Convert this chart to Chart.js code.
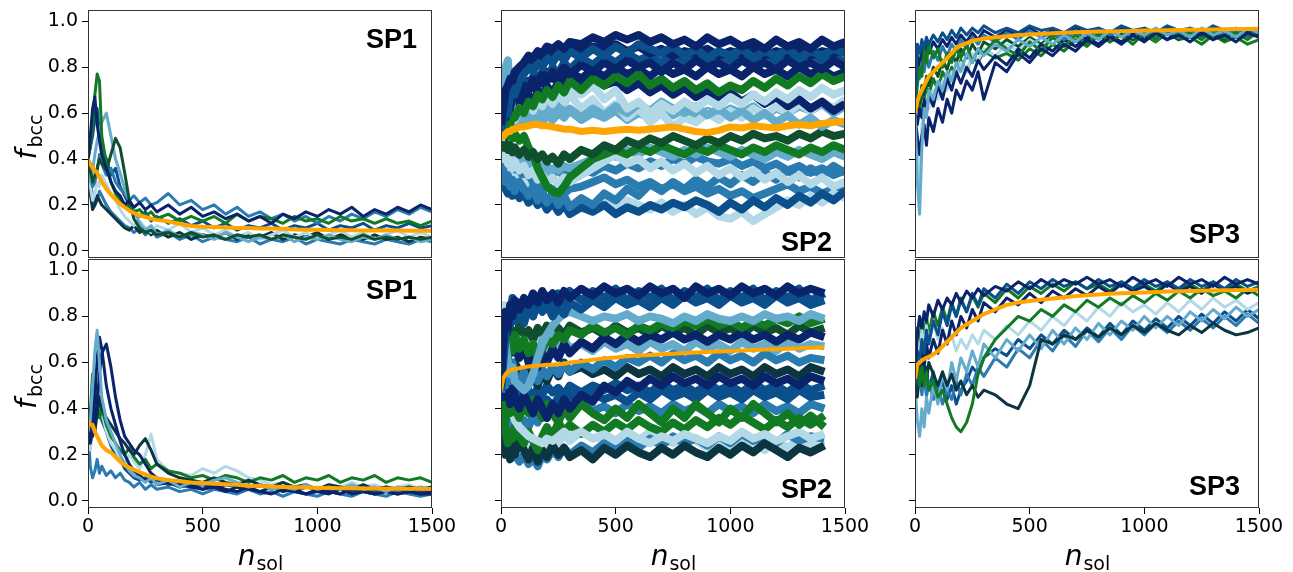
<!DOCTYPE html>
<html>
<head>
<meta charset="utf-8">
<script src="https://cdn.jsdelivr.net/npm/chart.js@4.4.1/dist/chart.umd.min.js"></script>
<style>
  body { margin: 0; background: #fff; width: 1293px; height: 572px; position: relative; overflow: hidden; }
  canvas { position: absolute; }
</style>
</head>
<body>
<canvas id="p1"></canvas>
<canvas id="p2"></canvas>
<canvas id="p3"></canvas>
<canvas id="p4"></canvas>
<canvas id="p5"></canvas>
<canvas id="p6"></canvas>
<script>
// n_sol sample points (finer at the start where runs move fast)
const nsolGrid = [0,10,20,30,40,50,60,80,100,120,140,160,180,200,225,250,275,300,
  350,400,450,500,550,600,650,700,750,800,850,900,950,1000,1050,1100,1150,1200,1250,1300,1350,1400,1450,1500];
const nsolGridShort = [0,10,20,30,40,50,60,80,100,120,140,160,180,200,225,250,275,300,
  350,400,450,500,550,600,650,700,750,800,850,900,950,1000,1050,1100,1150,1200,1250,1300,1350,1410];

const xTickVals = [0, 500, 1000, 1500];
const yTickVals = [0, 0.2, 0.4, 0.6, 0.8, 1.0];

// ---- SP1, top row
const meanSp1Top = [.4,.38,.36,.35,.34,.32,.3,.27,.245,.225,.205,.19,.175,.165,.155,.148,.14,.135,
  .128,.118,.108,.105,.104,.102,.1,.1,.098,.097,.096,.093,.092,.092,.091,.09,.09,.089,.089,.09,.089,.088,.088,.088];
const runsSp1Top = [
  [.38,.5,.62,.67,.55,.48,.42,.36,.3,.26,.24,.2,.22,.19,.21,.18,.2,.17,
   .2,.16,.19,.15,.17,.14,.16,.13,.15,.12,.16,.14,.17,.15,.18,.16,.19,.15,.18,.16,.19,.17,.2,.18],
  [.42,.45,.55,.68,.77,.74,.5,.38,.3,.25,.22,.2,.19,.17,.18,.15,.17,.14,
   .16,.13,.15,.13,.15,.12,.16,.13,.15,.14,.12,.15,.13,.14,.12,.15,.13,.14,.12,.14,.12,.13,.11,.13],
  [.4,.35,.3,.33,.36,.4,.38,.35,.42,.49,.45,.34,.22,.14,.1,.08,.09,.07,
   .08,.06,.08,.06,.07,.05,.07,.06,.07,.05,.07,.06,.05,.07,.05,.06,.05,.07,.05,.06,.05,.06,.05,.06],
  [.36,.3,.35,.42,.48,.52,.56,.6,.5,.4,.34,.27,.22,.18,.12,.09,.11,.07,
   .09,.06,.08,.07,.05,.08,.06,.04,.06,.05,.07,.04,.06,.05,.07,.05,.04,.06,.05,.07,.05,.06,.04,.05],
  [.4,.32,.28,.3,.35,.42,.38,.33,.36,.3,.27,.25,.22,.24,.21,.23,.2,.21,
   .25,.2,.22,.18,.2,.16,.19,.15,.17,.14,.16,.13,.15,.12,.15,.13,.16,.14,.17,.15,.18,.16,.19,.17],
  [.38,.28,.22,.25,.3,.28,.33,.29,.25,.22,.18,.15,.13,.11,.13,.1,.08,.11,
   .09,.12,.08,.1,.07,.09,.06,.08,.05,.07,.09,.06,.08,.05,.07,.09,.06,.08,.05,.07,.09,.06,.08,.06],
  [.35,.25,.18,.2,.24,.22,.2,.18,.16,.14,.12,.1,.09,.11,.08,.1,.07,.09,
   .06,.08,.05,.07,.06,.08,.05,.07,.06,.08,.05,.07,.06,.08,.05,.07,.06,.05,.07,.05,.06,.04,.06,.05],
  [.4,.45,.5,.58,.62,.5,.45,.4,.33,.36,.28,.24,.2,.17,.15,.17,.13,.15,
   .12,.14,.11,.13,.1,.12,.09,.11,.1,.12,.09,.11,.1,.12,.09,.11,.1,.12,.09,.11,.1,.12,.1,.11],
  [.37,.3,.24,.2,.22,.26,.24,.2,.17,.15,.13,.11,.1,.08,.1,.07,.09,.06,
   .08,.05,.07,.04,.06,.05,.04,.06,.03,.05,.04,.06,.03,.05,.04,.03,.05,.04,.03,.05,.04,.03,.05,.04]
];

// ---- SP1, bottom row
const meanSp1Bot = [.35,.33,.33,.3,.28,.26,.24,.22,.21,.19,.17,.155,.145,.135,.125,.115,.105,.098,
  .09,.085,.08,.077,.074,.072,.07,.066,.064,.062,.06,.059,.058,.057,.056,.055,.055,.054,.054,.053,.053,.052,.052,.051];
const runsSp1Bot = [
  [.3,.35,.5,.65,.74,.6,.45,.35,.3,.25,.2,.16,.13,.11,.1,.08,.1,.07,
   .09,.06,.08,.07,.09,.1,.08,.06,.07,.05,.06,.05,.07,.05,.06,.05,.07,.05,.06,.04,.06,.05,.06,.05],
  [.33,.25,.3,.45,.62,.71,.66,.5,.4,.33,.26,.2,.16,.13,.11,.09,.1,.07,
   .08,.06,.07,.05,.06,.04,.06,.05,.04,.06,.04,.05,.03,.05,.04,.03,.05,.04,.03,.04,.03,.04,.03,.04],
  [.35,.3,.28,.35,.42,.55,.64,.68,.58,.45,.35,.28,.25,.22,.2,.16,.12,.1,
   .08,.07,.06,.05,.07,.05,.04,.06,.04,.03,.05,.04,.03,.04,.03,.05,.03,.04,.03,.04,.03,.04,.03,.03],
  [.36,.4,.35,.3,.38,.45,.4,.36,.33,.3,.27,.25,.22,.2,.24,.27,.22,.16,
   .12,.1,.09,.08,.1,.08,.07,.09,.07,.06,.08,.06,.07,.05,.07,.06,.05,.07,.05,.06,.05,.06,.05,.06],
  [.34,.38,.55,.5,.42,.36,.4,.33,.28,.25,.22,.2,.23,.19,.16,.18,.14,.16,
   .13,.12,.1,.11,.09,.11,.1,.08,.1,.09,.11,.08,.1,.09,.11,.08,.1,.09,.11,.08,.1,.09,.1,.08],
  [.3,.22,.3,.38,.45,.42,.38,.3,.25,.22,.18,.16,.2,.17,.14,.2,.29,.18,
   .13,.12,.11,.14,.12,.15,.13,.1,.09,.07,.08,.06,.07,.05,.07,.06,.08,.06,.07,.05,.06,.07,.05,.06],
  [.32,.15,.1,.13,.18,.12,.15,.11,.13,.1,.12,.09,.08,.06,.08,.05,.07,.05,
   .06,.04,.05,.03,.05,.04,.03,.05,.03,.04,.02,.04,.03,.02,.04,.03,.02,.04,.03,.02,.04,.03,.02,.03],
  [.38,.32,.4,.52,.48,.4,.35,.3,.24,.2,.18,.14,.12,.1,.09,.1,.08,.09,
   .07,.08,.06,.07,.05,.07,.06,.05,.07,.05,.06,.04,.06,.05,.04,.06,.04,.05,.04,.06,.04,.05,.04,.05]
];

// ---- SP2, top row
const meanSp2Top = [.49,.5,.51,.52,.52,.53,.53,.54,.54,.545,.55,.55,.545,.545,.54,.535,.53,.53,
  .52,.525,.52,.525,.53,.525,.53,.535,.54,.53,.52,.515,.525,.54,.535,.545,.54,.535,.545,.55,.545,.555,.56,.565];
const runsSp2Top = [
  [.55,.62,.7,.72,.75,.74,.78,.8,.82,.85,.84,.87,.86,.89,.88,.9,.88,.91,
   .9,.93,.91,.94,.92,.94,.91,.93,.9,.92,.89,.93,.9,.92,.89,.91,.88,.92,.89,.91,.88,.92,.89,.91],
  [.5,.58,.65,.6,.7,.72,.68,.74,.77,.8,.78,.82,.8,.84,.82,.86,.83,.87,
   .84,.88,.85,.89,.86,.9,.88,.86,.89,.85,.88,.84,.87,.85,.88,.84,.87,.85,.88,.84,.87,.85,.88,.86],
  [.52,.6,.58,.66,.62,.68,.7,.66,.72,.7,.75,.72,.77,.74,.78,.76,.8,.77,
   .81,.78,.82,.79,.83,.8,.82,.78,.82,.79,.83,.8,.82,.79,.83,.8,.82,.79,.83,.8,.82,.79,.83,.8],
  [.5,.55,.52,.58,.55,.6,.58,.62,.6,.65,.63,.68,.66,.7,.67,.72,.69,.74,
   .7,.75,.72,.76,.73,.77,.72,.75,.71,.74,.7,.73,.69,.72,.7,.74,.71,.75,.72,.76,.73,.77,.74,.76],
  [.48,.55,.62,.58,.55,.6,.57,.62,.6,.64,.61,.66,.63,.67,.64,.68,.65,.7,
   .68,.72,.66,.7,.62,.65,.6,.64,.61,.65,.62,.66,.63,.67,.64,.68,.65,.69,.66,.7,.67,.71,.68,.7],
  [.5,.68,.8,.83,.7,.6,.55,.58,.55,.6,.57,.62,.58,.63,.6,.64,.6,.62,
   .58,.62,.59,.63,.6,.64,.61,.65,.62,.6,.63,.59,.62,.58,.61,.57,.6,.56,.59,.55,.58,.54,.57,.55],
  [.47,.45,.47,.44,.46,.43,.45,.42,.44,.41,.43,.4,.42,.39,.41,.38,.42,.4,
   .44,.42,.46,.44,.48,.46,.49,.47,.5,.48,.46,.49,.47,.5,.48,.51,.49,.5,.48,.51,.49,.52,.5,.51],
  [.5,.52,.55,.5,.52,.49,.51,.48,.5,.45,.42,.36,.32,.28,.26,.25,.28,.32,
   .36,.4,.42,.44,.42,.45,.43,.46,.44,.42,.45,.43,.46,.44,.42,.45,.43,.46,.44,.42,.45,.43,.46,.44],
  [.45,.4,.42,.38,.4,.36,.39,.35,.37,.33,.35,.31,.33,.3,.32,.29,.32,.3,
   .33,.36,.39,.42,.38,.4,.36,.39,.35,.38,.34,.37,.33,.36,.32,.35,.31,.34,.3,.33,.29,.32,.28,.3],
  [.4,.35,.3,.33,.28,.31,.26,.3,.27,.24,.28,.22,.26,.21,.25,.2,.24,.19,
   .23,.2,.25,.22,.27,.24,.29,.26,.3,.27,.31,.28,.32,.29,.33,.3,.34,.31,.35,.32,.36,.33,.37,.34],
  [.42,.3,.27,.25,.28,.24,.27,.23,.25,.21,.24,.2,.22,.18,.21,.17,.2,.16,
   .19,.17,.2,.16,.19,.17,.2,.18,.21,.19,.22,.2,.17,.21,.18,.22,.19,.23,.2,.24,.21,.25,.22,.26],
  [.44,.38,.34,.3,.33,.29,.32,.28,.3,.26,.22,.2,.23,.19,.22,.18,.2,.17,
   .2,.18,.21,.19,.22,.2,.18,.21,.17,.2,.16,.19,.15,.14,.17,.13,.16,.19,.22,.2,.24,.21,.25,.23],
  [.55,.6,.56,.62,.58,.64,.6,.66,.62,.68,.64,.7,.66,.72,.68,.74,.7,.75,
   .71,.76,.72,.74,.7,.73,.69,.72,.68,.71,.67,.7,.66,.69,.65,.68,.64,.67,.63,.66,.62,.65,.61,.64],
  [.52,.56,.6,.64,.68,.7,.72,.76,.78,.8,.82,.84,.83,.86,.85,.87,.86,.88,
   .87,.89,.88,.9,.87,.89,.86,.88,.85,.87,.86,.88,.85,.87,.86,.88,.85,.87,.86,.88,.85,.87,.86,.88],
  [.46,.44,.42,.4,.42,.38,.4,.37,.39,.36,.38,.35,.37,.34,.36,.35,.37,.36,
   .38,.4,.43,.41,.44,.42,.45,.43,.41,.44,.42,.45,.43,.41,.44,.42,.4,.43,.41,.44,.42,.4,.43,.41],
  [.43,.4,.36,.38,.34,.36,.32,.34,.3,.32,.28,.3,.27,.29,.26,.28,.25,.27,
   .28,.3,.32,.29,.31,.28,.3,.27,.29,.26,.28,.25,.27,.24,.26,.23,.25,.27,.29,.26,.28,.25,.27,.26],
  [.6,.72,.68,.74,.7,.66,.72,.68,.74,.71,.76,.73,.78,.75,.8,.77,.82,.79,
   .84,.81,.85,.82,.86,.83,.85,.82,.86,.83,.85,.82,.86,.83,.85,.82,.86,.83,.85,.82,.86,.83,.85,.82],
  [.5,.52,.5,.54,.52,.56,.54,.58,.56,.6,.58,.62,.6,.64,.62,.66,.64,.68,
   .62,.66,.6,.64,.58,.62,.56,.6,.54,.58,.56,.6,.57,.61,.58,.62,.59,.63,.6,.64,.61,.65,.62,.66],
  [.5,.56,.54,.58,.56,.6,.57,.59,.56,.6,.57,.6,.56,.59,.57,.6,.58,.61,
   .57,.6,.58,.61,.57,.6,.58,.61,.59,.62,.58,.61,.59,.62,.6,.63,.59,.62,.6,.63,.61,.64,.6,.63],
  [.44,.42,.4,.42,.38,.41,.37,.4,.36,.39,.35,.38,.34,.37,.33,.36,.32,.35,
   .36,.34,.37,.35,.38,.36,.39,.37,.4,.38,.41,.39,.38,.4,.37,.39,.36,.38,.35,.37,.34,.36,.33,.35],
  [.55,.64,.6,.68,.64,.7,.67,.72,.69,.74,.71,.76,.73,.78,.75,.77,.74,.78,
   .75,.79,.76,.8,.77,.79,.76,.8,.77,.79,.76,.8,.77,.79,.76,.8,.77,.79,.76,.8,.77,.79,.76,.78]
];

// ---- SP2, bottom row (runs stop near n_sol = 1410)
const meanSp2Bot = [.48,.53,.55,.56,.565,.57,.572,.575,.58,.583,.585,.587,.588,.59,.59,.592,.595,.6,
  .605,.612,.618,.622,.627,.63,.633,.636,.638,.641,.643,.646,.648,.65,.652,.654,.656,.658,.66,.662,.664,.666];
const runsSp2Bot = [
  [.5,.7,.82,.75,.85,.8,.87,.83,.88,.85,.9,.86,.91,.87,.9,.86,.91,.88,
   .92,.89,.93,.9,.92,.89,.93,.9,.92,.88,.93,.9,.92,.89,.93,.9,.92,.89,.93,.9,.92,.9],
  [.48,.6,.72,.8,.76,.84,.78,.82,.77,.84,.8,.86,.82,.85,.8,.84,.81,.86,
   .83,.87,.84,.88,.85,.87,.84,.88,.85,.89,.86,.88,.85,.89,.86,.88,.85,.89,.86,.88,.85,.87],
  [.5,.75,.68,.6,.55,.58,.52,.5,.48,.5,.55,.62,.68,.72,.76,.79,.81,.82,
   .8,.78,.8,.79,.81,.78,.8,.79,.77,.8,.78,.81,.79,.78,.8,.78,.81,.79,.8,.78,.81,.79],
  [.5,.58,.66,.62,.7,.65,.72,.66,.7,.64,.68,.62,.66,.7,.68,.72,.7,.74,
   .72,.76,.73,.75,.72,.76,.74,.77,.75,.78,.76,.79,.76,.78,.75,.78,.76,.79,.77,.8,.77,.79],
  [.52,.65,.6,.7,.64,.72,.66,.62,.68,.6,.66,.58,.64,.6,.66,.62,.68,.64,
   .69,.66,.71,.68,.72,.69,.72,.7,.73,.7,.72,.69,.72,.7,.73,.7,.72,.69,.72,.7,.73,.71],
  [.47,.55,.5,.58,.52,.6,.55,.5,.56,.5,.55,.52,.57,.54,.58,.55,.59,.56,
   .6,.57,.61,.58,.62,.6,.63,.6,.64,.61,.63,.6,.64,.61,.63,.6,.64,.61,.63,.6,.62,.61],
  [.5,.45,.55,.48,.42,.5,.45,.4,.46,.42,.38,.44,.4,.36,.42,.38,.44,.4,
   .46,.43,.5,.47,.52,.49,.53,.5,.54,.51,.53,.5,.54,.51,.53,.5,.54,.51,.53,.5,.54,.52],
  [.48,.4,.35,.42,.38,.45,.4,.36,.42,.38,.44,.4,.36,.42,.38,.34,.4,.36,
   .42,.38,.35,.4,.36,.42,.38,.34,.4,.36,.42,.38,.34,.4,.36,.42,.38,.34,.38,.33,.37,.32],
  [.46,.5,.44,.5,.45,.48,.43,.47,.42,.46,.41,.45,.4,.44,.41,.45,.42,.46,
   .43,.47,.44,.46,.43,.47,.44,.48,.45,.47,.44,.48,.45,.47,.44,.48,.45,.47,.44,.48,.45,.46],
  [.5,.85,.7,.55,.45,.4,.35,.32,.3,.28,.27,.26,.25,.27,.26,.28,.3,.28,
   .3,.27,.29,.26,.3,.27,.25,.28,.26,.29,.27,.25,.28,.26,.3,.27,.29,.26,.28,.3,.27,.29],
  [.45,.38,.3,.25,.3,.27,.32,.28,.25,.3,.26,.22,.28,.32,.28,.34,.3,.33,
   .29,.33,.3,.34,.31,.35,.32,.3,.34,.31,.35,.32,.36,.33,.37,.34,.31,.35,.32,.36,.33,.37],
  [.48,.3,.2,.25,.18,.24,.2,.26,.22,.18,.23,.17,.22,.19,.24,.2,.23,.19,
   .22,.18,.23,.2,.24,.21,.19,.23,.2,.24,.21,.19,.23,.2,.24,.21,.25,.22,.19,.23,.21,.24],
  [.5,.55,.45,.35,.28,.22,.2,.17,.2,.16,.19,.15,.2,.18,.22,.19,.23,.2,
   .24,.21,.25,.22,.26,.23,.27,.24,.28,.25,.27,.24,.28,.25,.29,.26,.28,.25,.29,.26,.28,.27],
  [.5,.6,.56,.62,.58,.55,.6,.56,.52,.58,.54,.5,.56,.52,.58,.54,.6,.56,
   .58,.55,.57,.54,.58,.55,.57,.54,.58,.55,.57,.54,.58,.55,.57,.54,.58,.55,.57,.54,.58,.56],
  [.48,.42,.46,.4,.36,.3,.34,.3,.35,.32,.37,.34,.39,.36,.4,.37,.41,.38,
   .42,.39,.41,.38,.42,.39,.41,.38,.42,.39,.41,.38,.42,.39,.41,.38,.42,.39,.41,.38,.42,.4],
  [.5,.62,.7,.66,.72,.68,.64,.7,.66,.62,.68,.64,.7,.66,.72,.68,.7,.66,
   .68,.65,.69,.66,.68,.65,.69,.66,.68,.65,.69,.66,.68,.65,.69,.66,.68,.65,.69,.66,.68,.67],
  [.5,.45,.4,.48,.35,.3,.28,.25,.23,.26,.22,.25,.27,.24,.28,.25,.29,.26,
   .3,.27,.28,.25,.29,.26,.3,.27,.25,.28,.26,.23,.27,.24,.28,.25,.22,.26,.23,.27,.24,.26],
  [.52,.78,.7,.84,.8,.88,.82,.86,.8,.87,.83,.88,.84,.89,.85,.9,.86,.91,
   .87,.91,.88,.92,.87,.91,.88,.92,.87,.91,.88,.92,.87,.91,.88,.92,.87,.91,.88,.92,.87,.9],
  [.48,.52,.46,.5,.44,.48,.42,.46,.44,.48,.45,.49,.46,.5,.47,.49,.46,.5,
   .47,.5,.48,.51,.48,.5,.47,.51,.48,.5,.47,.51,.48,.5,.47,.51,.48,.5,.47,.51,.48,.5],
  [.5,.6,.66,.72,.68,.74,.7,.76,.72,.74,.7,.75,.72,.76,.73,.75,.72,.76,
   .73,.75,.72,.76,.73,.75,.72,.76,.73,.75,.72,.76,.73,.75,.72,.76,.73,.75,.72,.76,.73,.75]
];

// ---- SP3, top row
const meanSp3Top = [.6,.65,.68,.7,.72,.74,.76,.78,.8,.82,.84,.86,.885,.895,.905,.915,.92,.925,
  .93,.935,.94,.942,.945,.948,.95,.952,.953,.955,.955,.957,.958,.96,.96,.961,.962,.963,.963,.964,.965,.966,.966,.967];
const runsSp3Top = [
  [.6,.3,.16,.45,.62,.58,.7,.66,.74,.7,.78,.74,.82,.78,.86,.82,.88,.85,
   .9,.87,.92,.89,.93,.9,.94,.91,.95,.92,.96,.93,.96,.94,.97,.94,.96,.93,.97,.94,.96,.93,.97,.95],
  [.58,.5,.42,.5,.55,.46,.58,.52,.62,.56,.66,.6,.7,.66,.74,.7,.78,.66,
   .82,.78,.86,.82,.88,.85,.9,.87,.92,.89,.93,.9,.94,.91,.95,.92,.94,.91,.95,.92,.94,.91,.95,.93],
  [.62,.9,.86,.92,.88,.93,.9,.94,.91,.95,.92,.96,.93,.97,.94,.97,.95,.98,
   .95,.97,.95,.98,.96,.97,.95,.98,.96,.97,.95,.98,.96,.97,.95,.98,.96,.97,.95,.98,.96,.97,.95,.97],
  [.6,.72,.8,.76,.88,.82,.9,.84,.88,.8,.86,.82,.88,.84,.9,.82,.88,.86,
   .92,.88,.85,.91,.87,.93,.89,.94,.9,.95,.91,.94,.9,.95,.92,.96,.93,.95,.92,.96,.93,.95,.92,.96],
  [.63,.8,.75,.82,.78,.85,.8,.87,.83,.89,.85,.9,.87,.92,.89,.93,.9,.94,
   .91,.95,.92,.96,.93,.95,.92,.96,.94,.97,.94,.96,.93,.97,.94,.96,.94,.97,.95,.97,.94,.96,.94,.97],
  [.6,.55,.62,.58,.66,.6,.68,.63,.72,.66,.75,.7,.78,.73,.8,.76,.83,.79,
   .85,.81,.88,.84,.9,.87,.92,.89,.93,.9,.94,.91,.95,.92,.95,.92,.96,.93,.95,.92,.96,.93,.95,.94],
  [.58,.45,.3,.55,.6,.66,.62,.7,.66,.74,.7,.78,.75,.82,.78,.86,.83,.88,
   .85,.9,.87,.92,.89,.93,.9,.94,.91,.95,.92,.96,.93,.95,.92,.96,.93,.95,.92,.96,.93,.95,.92,.95],
  [.61,.68,.64,.72,.68,.76,.72,.8,.76,.83,.79,.86,.82,.88,.84,.9,.86,.91,
   .88,.92,.89,.93,.9,.94,.91,.95,.92,.96,.93,.95,.92,.96,.93,.95,.92,.96,.93,.95,.92,.96,.93,.95],
  [.6,.85,.8,.88,.84,.9,.86,.91,.88,.92,.89,.93,.9,.94,.91,.95,.92,.96,
   .93,.96,.94,.97,.94,.96,.93,.97,.94,.96,.93,.97,.94,.96,.93,.97,.94,.96,.93,.97,.94,.96,.93,.96],
  [.6,.64,.6,.7,.66,.72,.68,.75,.7,.78,.74,.8,.76,.83,.78,.85,.82,.87,
   .84,.86,.83,.88,.85,.9,.87,.92,.89,.94,.91,.95,.92,.94,.91,.95,.92,.93,.9,.94,.91,.93,.9,.92]
];

// ---- SP3, bottom row
const meanSp3Bot = [.53,.59,.6,.61,.615,.62,.625,.635,.65,.67,.69,.71,.73,.75,.765,.78,.795,.81,
  .83,.85,.86,.867,.872,.878,.883,.888,.892,.895,.898,.9,.902,.904,.906,.908,.909,.91,.911,.912,.913,.914,.915,.916];
const runsSp3Bot = [
  [.55,.72,.8,.75,.82,.78,.85,.8,.87,.83,.88,.85,.9,.86,.91,.88,.92,.89,
   .93,.91,.95,.92,.96,.93,.96,.94,.97,.94,.96,.93,.97,.94,.96,.93,.97,.94,.96,.93,.97,.94,.96,.94],
  [.5,.65,.6,.7,.64,.74,.68,.78,.72,.82,.76,.85,.8,.87,.82,.9,.85,.92,
   .88,.94,.9,.95,.92,.96,.93,.95,.92,.96,.93,.95,.92,.96,.93,.95,.92,.96,.93,.95,.92,.96,.93,.95],
  [.5,.6,.5,.58,.5,.56,.48,.52,.45,.48,.42,.36,.32,.3,.34,.42,.55,.62,
   .7,.75,.8,.78,.83,.8,.85,.82,.87,.84,.88,.85,.89,.86,.9,.87,.91,.88,.92,.89,.91,.88,.92,.89],
  [.52,.45,.55,.5,.58,.52,.6,.55,.5,.56,.5,.55,.48,.52,.46,.5,.45,.48,
   .46,.42,.4,.5,.7,.68,.72,.7,.74,.71,.75,.72,.76,.73,.77,.74,.72,.76,.73,.77,.74,.72,.73,.75],
  [.5,.35,.28,.4,.32,.45,.38,.5,.42,.55,.48,.6,.52,.62,.56,.65,.58,.68,
   .62,.7,.65,.72,.66,.74,.68,.75,.7,.77,.72,.78,.74,.8,.75,.8,.76,.82,.78,.83,.79,.84,.8,.83],
  [.55,.48,.56,.46,.55,.45,.52,.44,.5,.42,.48,.44,.52,.46,.55,.5,.58,.54,
   .62,.58,.66,.62,.7,.65,.72,.67,.74,.69,.75,.7,.76,.72,.77,.73,.78,.74,.79,.75,.8,.76,.81,.77],
  [.53,.6,.55,.65,.58,.68,.62,.7,.64,.74,.68,.78,.72,.8,.75,.83,.78,.86,
   .82,.88,.85,.9,.86,.91,.88,.92,.89,.93,.9,.94,.91,.93,.9,.94,.91,.93,.9,.94,.91,.93,.9,.92],
  [.52,.7,.62,.74,.66,.76,.68,.78,.7,.75,.68,.72,.65,.7,.66,.72,.68,.74,
   .7,.76,.72,.78,.74,.8,.76,.82,.78,.84,.8,.86,.82,.85,.81,.86,.82,.87,.83,.88,.84,.87,.83,.86],
  [.5,.62,.52,.6,.5,.58,.48,.56,.46,.52,.44,.5,.42,.48,.52,.58,.55,.62,
   .66,.63,.7,.66,.72,.68,.74,.7,.75,.71,.77,.72,.78,.74,.79,.75,.8,.76,.81,.77,.82,.78,.83,.79],
  [.54,.75,.68,.78,.7,.8,.72,.82,.76,.84,.78,.86,.8,.88,.82,.89,.84,.9,
   .86,.92,.88,.93,.9,.94,.91,.95,.92,.94,.91,.95,.92,.94,.91,.95,.92,.94,.91,.95,.92,.94,.91,.93]
];

// ---- styling
const palette = {
  navy: '#0a246b', blue: '#0b4f8c', mid: '#2a7bb0', light: '#64abcc',
  pale: '#b3d9e7', green: '#137a24', dkgreen: '#0f4f2d', teal: '#0b3540'
};
const meanColor = '#ffa500';

const colLeft = [88, 501, 915];
const rowTop = [10, 259];
const rowHeight = [248, 249];
const plotWidth = 344;

const panels = [
  { id: 'p1', col: 0, row: 0, grid: nsolGrid, runs: runsSp1Top, mean: meanSp1Top, lw: 3, meanLw: 4,
    colors: ['navy','green','dkgreen','light','mid','pale','teal','blue','mid'],
    label: 'SP1', labRight: 15, labTop: 38 },
  { id: 'p2', col: 1, row: 0, grid: nsolGrid, runs: runsSp2Top, mean: meanSp2Top, lw: 8, meanLw: 7,
    colors: ['navy','blue','navy','green','pale','light','dkgreen','green','pale','mid','blue','pale','navy',
             'navy','light','mid','blue','pale','light','mid','navy'],
    label: 'SP2', labRight: 13, labBottom: 7.5 },
  { id: 'p3', col: 2, row: 0, grid: nsolGrid, runs: runsSp3Top, mean: meanSp3Top, lw: 3, meanLw: 4,
    colors: ['light','navy','blue','green','mid','navy','pale','dkgreen','navy','green'],
    label: 'SP3', labRight: 19, labBottom: 15 },
  { id: 'p4', col: 0, row: 1, grid: nsolGrid, runs: runsSp1Bot, mean: meanSp1Bot, lw: 3, meanLw: 4,
    colors: ['light','navy','navy','teal','green','pale','mid','blue'],
    label: 'SP1', labRight: 15, labTop: 40 },
  { id: 'p5', col: 1, row: 1, grid: nsolGridShort, runs: runsSp2Bot, mean: meanSp2Bot, lw: 8, meanLw: 4,
    colors: ['navy','blue','light','green','navy','mid','navy','green','blue','pale','green','teal','mid',
             'teal','mid','light','pale','blue','blue','dkgreen'],
    label: 'SP2', labRight: 13, labBottom: 10 },
  { id: 'p6', col: 2, row: 1, grid: nsolGrid, runs: runsSp3Bot, mean: meanSp3Bot, lw: 3, meanLw: 4,
    colors: ['navy','blue','green','teal','light','mid','navy','pale','blue','green'],
    label: 'SP3', labRight: 19, labBottom: 13 }
];

// frame, panel tag and the two axis titles (mathtext-like subscripts)
const decoPlugin = {
  id: 'deco',
  afterDraw(chart, args, o) {
    const { ctx, chartArea: a } = chart;
    ctx.save();
    ctx.strokeStyle = '#333';
    ctx.lineWidth = 1;
    ctx.strokeRect(a.left + 0.5, a.top + 0.5, a.width - 1, a.height - 1);

    ctx.fillStyle = '#000';
    ctx.textBaseline = 'alphabetic';
    ctx.font = 'bold 27px "Liberation Sans", Arial, sans-serif';
    ctx.textAlign = 'right';
    const ly = o.labTop !== undefined ? a.top + o.labTop : a.bottom - o.labBottom;
    ctx.fillText(o.label, a.right - o.labRight, ly);

    ctx.textAlign = 'left';
    const big = 'italic 28px "DejaVu Sans"', small = '19px "DejaVu Sans"';
    if (o.xTitle) {
      ctx.font = big; const w1 = ctx.measureText('n').width;
      ctx.font = small; const w2 = ctx.measureText('sol').width;
      const x0 = (a.left + a.right) / 2 - (w1 + w2) / 2, yb = a.bottom + 57;
      ctx.font = big; ctx.fillText('n', x0, yb);
      ctx.font = small; ctx.fillText('sol', x0 + w1 + 1, yb + 5);
    }
    if (o.yTitle) {
      ctx.translate(36, (a.top + a.bottom) / 2 + 4);
      ctx.rotate(-Math.PI / 2);
      ctx.font = big; const w1 = ctx.measureText('f').width;
      ctx.font = small; const w2 = ctx.measureText('bcc').width;
      const x0 = -(w1 + w2) / 2;
      ctx.font = big; ctx.fillText('f', x0, 0);
      ctx.font = small; ctx.fillText('bcc', x0 + w1 + 2, 6);
    }
    ctx.restore();
  }
};

function makePanel(p) {
  const cv = document.getElementById(p.id);
  const ml = p.col === 0 ? 88 : 60, mr = 30, mt = 12, mb = p.row === 1 ? 64 : 12;
  cv.style.left = (colLeft[p.col] - ml) + 'px';
  cv.style.top = (rowTop[p.row] - mt) + 'px';
  cv.width = ml + plotWidth + mr;
  cv.height = mt + rowHeight[p.row] + mb;

  const datasets = [{
    data: p.grid.map((x, i) => ({ x, y: p.mean[i] })),
    borderColor: meanColor, borderWidth: p.meanLw
  }];
  p.runs.forEach((run, k) => {
    datasets.push({
      data: p.grid.map((x, i) => ({ x, y: run[i] })),
      borderColor: palette[p.colors[k]], borderWidth: p.lw
    });
  });

  const tickFont = { family: 'DejaVu Sans', size: 19 };
  new Chart(cv, {
    type: 'line',
    data: { datasets },
    options: {
      responsive: false, animation: false, devicePixelRatio: 1,
      layout: { padding: { left: 0, right: mr, top: mt, bottom: 0 } },
      elements: { point: { radius: 0 }, line: { tension: 0, borderJoinStyle: 'round' } },
      plugins: {
        legend: { display: false }, tooltip: { enabled: false },
        deco: { label: p.label, labRight: p.labRight, labTop: p.labTop, labBottom: p.labBottom,
                xTitle: p.row === 1, yTitle: p.col === 0 }
      },
      scales: {
        x: {
          type: 'linear', min: 0, max: 1500,
          afterBuildTicks: s => { s.ticks = xTickVals.map(v => ({ value: v })); },
          afterFit: s => { s.height = mb; s.paddingLeft = 0; s.paddingRight = 0; },
          border: { display: false },
          grid: { drawOnChartArea: false, drawTicks: p.row === 1, tickLength: 6, tickColor: '#000', tickWidth: 1 },
          ticks: { display: p.row === 1, padding: 2, color: '#000', font: tickFont, maxRotation: 0, autoSkip: false,
                   callback: v => String(v) }
        },
        y: {
          min: -0.031, max: 1.049,
          afterBuildTicks: s => { s.ticks = yTickVals.map(v => ({ value: v })); },
          afterFit: s => { s.width = ml; s.paddingTop = 0; s.paddingBottom = 0; },
          border: { display: false },
          grid: { drawOnChartArea: false, tickLength: 6, tickColor: '#000', tickWidth: 1 },
          ticks: { display: p.col === 0, padding: 4, color: '#000', font: tickFont,
                   callback: v => v.toFixed(1) }
        }
      }
    },
    plugins: [decoPlugin]
  });
}

panels.forEach(makePanel);
</script>
</body>
</html>
